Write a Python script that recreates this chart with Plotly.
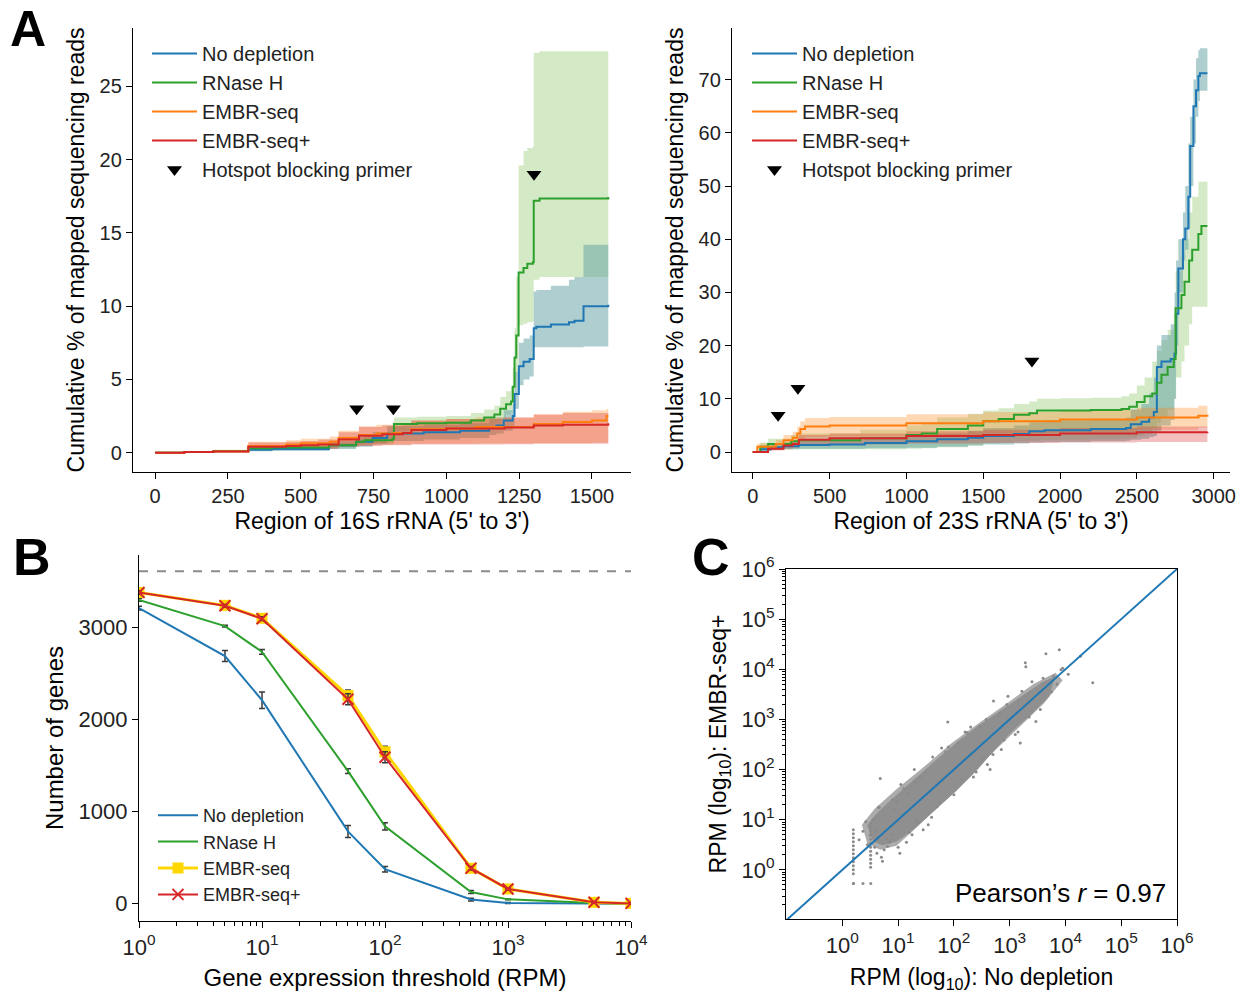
import numpy as np
import plotly.graph_objects as go

FONT = "Liberation Sans, Arial, sans-serif"
W, H = 1244, 995

# ---------------- Panel A (16S rRNA) ----------------
s16_nodep_x = [0, 100, 200, 320, 400, 597, 690, 747, 797, 922, 1047, 1147, 1172, 1197, 1228, 1234, 1249, 1265, 1286, 1300, 1309, 1359, 1421, 1440, 1471, 1556]
s16_nodep_y = [0, 0.05, 0.1, 0.2, 0.25, 0.5, 0.75, 1.0, 1.3, 1.4, 1.5, 1.75, 1.85, 2.2, 2.5, 4.0, 5.9, 6.2, 6.4, 8.5, 8.6, 8.75, 8.9, 9.0, 10.0, 10.1]
s16_nodep_lo = [0, 0.02, 0.05, 0.1, 0.12, 0.25, 0.4, 0.6, 0.8, 0.9, 1.0, 1.2, 1.3, 1.5, 1.8, 3.0, 4.6, 5.0, 5.2, 7.2, 7.2, 7.2, 7.2, 7.2, 7.25, 7.3]
s16_nodep_hi = [0, 0.1, 0.15, 0.3, 0.4, 0.8, 1.1, 1.4, 1.8, 1.9, 2.0, 2.3, 2.4, 2.9, 3.3, 5.5, 7.5, 7.8, 8.0, 11.0, 11.1, 11.4, 11.8, 12.0, 14.2, 14.5]

s16_rnh_x = [0, 100, 200, 320, 400, 597, 690, 720, 815, 820, 900, 1000, 1084, 1130, 1165, 1185, 1205, 1222, 1228, 1234, 1240, 1248, 1265, 1278, 1297, 1300, 1320, 1556]
s16_rnh_y = [0, 0.05, 0.12, 0.3, 0.35, 0.5, 0.75, 0.85, 0.95, 1.95, 2.0, 2.05, 2.2, 2.4, 2.6, 3.0, 3.3, 3.5, 4.5, 6.5, 8.0, 12.3, 12.6, 12.9, 13.0, 17.2, 17.35, 17.45]
s16_rnh_lo = [0, 0.02, 0.05, 0.15, 0.2, 0.3, 0.5, 0.55, 0.6, 1.5, 1.55, 1.6, 1.7, 1.85, 2.0, 2.3, 2.6, 2.8, 3.3, 4.5, 5.5, 8.7, 8.8, 8.9, 9.0, 11.8, 12.0, 12.1]
s16_rnh_hi = [0, 0.1, 0.2, 0.45, 0.5, 0.7, 1.0, 1.15, 1.3, 2.4, 2.45, 2.5, 2.7, 2.95, 3.2, 3.8, 4.2, 4.5, 5.8, 8.5, 12.0, 19.6, 20.6, 20.8, 20.9, 27.3, 27.4, 27.5]

s16_embr_x = [0, 100, 200, 320, 450, 500, 600, 630, 700, 760, 820, 880, 1000, 1100, 1300, 1400, 1500, 1550, 1556]
s16_embr_y = [0, 0.04, 0.08, 0.45, 0.55, 0.65, 0.75, 1.0, 1.2, 1.3, 1.35, 1.6, 1.65, 1.75, 1.95, 2.1, 2.2, 2.5, 2.5]
s16_embr_lo = [0, 0.02, 0.04, 0.2, 0.25, 0.3, 0.35, 0.45, 0.5, 0.55, 0.55, 0.6, 0.6, 0.62, 0.65, 0.65, 0.68, 0.7, 0.7]
s16_embr_hi = [0, 0.08, 0.15, 0.75, 0.85, 0.95, 1.1, 1.5, 1.8, 1.9, 1.95, 2.2, 2.3, 2.4, 2.6, 2.8, 2.9, 3.0, 3.0]

s16_plus_x = [0, 100, 200, 320, 450, 500, 560, 630, 700, 780, 850, 880, 1000, 1200, 1300, 1400, 1556]
s16_plus_y = [0, 0.04, 0.08, 0.4, 0.45, 0.5, 0.55, 0.9, 1.15, 1.25, 1.35, 1.55, 1.65, 1.72, 1.85, 1.9, 2.0]
s16_plus_lo = [0, 0.02, 0.04, 0.18, 0.2, 0.22, 0.25, 0.4, 0.45, 0.5, 0.5, 0.55, 0.55, 0.58, 0.6, 0.6, 0.62]
s16_plus_hi = [0, 0.07, 0.13, 0.7, 0.75, 0.8, 0.9, 1.4, 1.75, 1.85, 1.95, 2.2, 2.3, 2.4, 2.6, 2.7, 2.9]

s16_hotspot_x = [692, 818, 1301]
s16_hotspot_y = [3.0, 3.0, 19.0]

# ---------------- Panel A (23S rRNA) ----------------
s23_nodep_x = [0, 50, 120, 200, 300, 500, 730, 1000, 1200, 1400, 1500, 1700, 1800, 1900, 2200, 2430, 2460, 2530, 2580, 2610, 2630, 2660, 2720, 2745, 2755, 2770, 2800, 2815, 2835, 2847, 2868, 2885, 2900, 2910, 2959]
s23_nodep_y = [0, 0.5, 0.9, 1.1, 1.3, 1.4, 1.7, 2.0, 2.4, 2.7, 3.0, 3.4, 3.9, 4.1, 4.3, 4.5, 5.2, 5.7, 6.5, 7.5, 16.0, 17.0, 17.5, 18.5, 26.0, 34.5, 40.0, 42.0, 48.0, 57.5, 65.0, 68.0, 70.7, 71.2, 71.2]
s23_nodep_lo = [0, 0.2, 0.4, 0.5, 0.6, 0.6, 0.7, 0.8, 1.0, 1.2, 1.4, 1.6, 1.8, 1.9, 2.0, 2.1, 2.3, 2.5, 2.8, 3.0, 4.0, 5.0, 6.0, 10.0, 20.0, 30.0, 36.0, 38.0, 42.0, 50.0, 58.0, 63.0, 66.0, 67.9, 67.9]
s23_nodep_hi = [0, 0.8, 1.5, 1.8, 2.0, 2.2, 2.6, 3.0, 3.5, 4.0, 4.5, 5.0, 5.6, 5.9, 6.2, 6.5, 8.0, 9.0, 11.0, 14.0, 20.0, 22.0, 24.0, 30.0, 36.0, 40.0, 45.0, 50.0, 58.0, 63.0, 70.0, 74.0, 75.5, 75.9, 75.9]

s23_rnh_x = [0, 50, 100, 250, 300, 700, 1000, 1100, 1200, 1400, 1500, 1600, 1700, 1800, 1850, 2000, 2200, 2400, 2450, 2500, 2550, 2600, 2630, 2660, 2700, 2740, 2752, 2790, 2810, 2840, 2860, 2900, 2920, 2959]
s23_rnh_y = [0, 1.0, 1.5, 2.0, 2.2, 2.6, 3.2, 3.5, 4.3, 5.0, 5.8, 6.2, 7.0, 7.3, 7.8, 7.8, 7.9, 8.1, 8.5, 9.4, 10.5, 11.0, 13.0, 14.5, 16.0, 17.5, 27.0, 29.5, 32.0, 36.0, 38.0, 41.0, 42.5, 42.5]
s23_rnh_lo = [0, 0.2, 0.4, 0.5, 0.5, 0.5, 0.6, 0.7, 0.9, 1.2, 1.6, 1.8, 2.0, 2.1, 2.2, 2.3, 2.4, 2.5, 2.6, 3.0, 3.5, 4.5, 5.5, 6.5, 8.0, 10.0, 14.0, 17.0, 20.0, 24.0, 27.3, 27.3, 27.3, 27.3]
s23_rnh_hi = [0, 1.8, 2.5, 3.2, 3.5, 4.2, 5.0, 5.5, 6.5, 7.2, 7.8, 8.2, 9.0, 9.5, 10.0, 10.1, 10.2, 10.5, 11.0, 12.5, 14.0, 17.0, 19.0, 21.0, 23.0, 26.0, 34.0, 37.0, 40.0, 45.0, 48.0, 50.8, 50.8, 50.8]

s23_embr_x = [0, 30, 150, 200, 260, 290, 310, 340, 500, 1000, 1500, 2000, 2500, 2900, 2959]
s23_embr_y = [0, 1.0, 1.5, 2.2, 2.7, 3.5, 4.3, 4.8, 5.0, 5.4, 5.8, 6.1, 6.5, 6.8, 7.0]
s23_embr_lo = [0, 0.5, 0.8, 1.2, 1.5, 2.0, 2.5, 2.8, 2.9, 3.2, 3.5, 3.8, 4.2, 4.6, 4.8]
s23_embr_hi = [0, 1.6, 2.3, 3.2, 3.8, 4.8, 5.8, 6.4, 6.6, 7.1, 7.5, 7.9, 8.3, 8.7, 8.9]

s23_plus_x = [0, 100, 200, 260, 300, 500, 1000, 1500, 2000, 2500, 2959]
s23_plus_y = [0, 0.6, 1.2, 1.5, 2.3, 2.6, 3.0, 3.2, 3.5, 3.7, 3.8]
s23_plus_lo = [0, 0.3, 0.6, 0.8, 1.2, 1.4, 1.6, 1.7, 1.8, 1.9, 2.0]
s23_plus_hi = [0, 0.9, 1.7, 2.1, 3.2, 3.5, 3.9, 4.2, 4.5, 4.8, 5.0]

s23_hotspot_x = [165, 294, 1817]
s23_hotspot_y = [6.9, 12.0, 17.1]

# ---------------- Panel B ----------------
thresholds = [1, 5, 10, 50, 100, 500, 1000, 5000, 10000]
genes_nodep = [3210, 2690, 2210, 785, 375, 45, 8, 2, 0]
err_nodep = [20, 60, 90, 65, 30, 15, 5, 1, 0]
genes_rnh = [3300, 3015, 2735, 1440, 840, 127, 47, 7, 0]
err_rnh = [15, 10, 25, 25, 40, 15, 5, 1, 0]
genes_embr = [3380, 3240, 3100, 2260, 1650, 385, 160, 15, 3]
err_embr = [20, 15, 20, 60, 60, 20, 10, 3, 1]
genes_plus = [3380, 3235, 3095, 2220, 1590, 385, 160, 15, 3]
err_plus = [20, 15, 20, 60, 60, 20, 10, 3, 1]
total_genes = 3610

# ---------------- Panel C (log10 RPM) ----------------
# sparse halo around the dense core
halo_lx = [0.35, 0.58, 0.98, 1.46, 1.95, 2.45, 2.95, 3.42, 3.82, 3.95, 3.62, 3.22, 2.82, 2.42, 2.03, 1.64, 1.25, 0.97, 0.68, 0.45]
halo_ly = [0.90, 1.22, 1.62, 2.05, 2.52, 2.93, 3.32, 3.70, 3.93, 3.78, 3.33, 2.90, 2.48, 2.04, 1.58, 1.16, 0.76, 0.48, 0.40, 0.52]
# dense core
cloud_lx = [0.45, 0.62, 0.85, 1.07, 1.38, 1.70, 2.05, 2.42, 2.75, 3.05, 3.33, 3.58, 3.80, 3.70, 3.40, 3.08, 2.76, 2.40, 2.02, 1.65, 1.28, 0.98, 0.72, 0.55]
cloud_ly = [0.88, 1.12, 1.36, 1.58, 1.88, 2.20, 2.53, 2.85, 3.10, 3.33, 3.55, 3.73, 3.84, 3.46, 3.12, 2.81, 2.44, 1.98, 1.56, 1.18, 0.82, 0.58, 0.50, 0.58]
pts_lx = [1.89, 1.29, 0.68, 1.78, 2.71, 3.28, 3.29, 3.65, 3.89, 4.49, 4.27, 3.92, 3.79, 3.47, 3.19, 2.97, 1.45, 1.54, 1.03, 0.91,
          0.81, 0.72, 0.62, 0.42, 0.37, 0.51, 0.37, 0.20, 0.94, 1.19, 1.32, 1.70, 2.14, 2.52, 2.90, 2.08, 2.46, 2.84, 3.22, 2.24,
          3.55, 3.75, 3.40, 1.10, 0.55, 0.75, 0.85, 1.25, 1.60, 2.00, 2.40, 2.60, 1.50, 0.60, 0.45, 0.30, 3.95, 4.05, 3.60, 3.85,
          2.30, 2.70, 3.10, 1.85, 1.40, 0.98, 0.66, 0.58, 0.70, 0.79, 1.15, 1.36, 2.95, 3.35, 1.05, 1.62, 2.20, 2.58, 0.90, 1.20,
          1.75, 2.35, 2.85, 3.15, 0.50, 0.65, 1.00, 1.30, 1.90, 2.65]
pts_ly = [2.95, 2.00, 1.82, 2.43, 3.37, 4.13, 4.05, 4.31, 4.39, 3.73, 4.26, 3.99, 3.86, 2.96, 2.53, 3.46, 0.80, 0.90, 0.33, 0.70,
          0.47, 0.17, 0.33, 0.96, 0.77, -0.27, -0.27, -0.27, 1.20, 1.53, 1.00, 1.26, 1.80, 2.23, 2.59, 2.53, 2.86, 3.13, 3.56, 2.74,
          3.20, 3.55, 3.75, 1.62, 1.00, 0.40, 0.55, 0.70, 1.05, 1.50, 1.95, 2.10, 1.95, 0.80, 0.50, 0.60, 4.02, 3.90, 3.82, 3.70,
          2.85, 2.30, 2.70, 2.35, 1.85, 1.35, 1.25, 0.45, 0.25, 0.62, 0.55, 0.95, 3.30, 3.05, 1.70, 2.25, 2.75, 3.00, 1.40, 0.75,
          1.35, 1.85, 2.40, 2.75, 0.70, 1.25, 0.45, 1.75, 2.45, 2.00]
streak1_lx = [0.197] * 13
streak1_ly = [0.80, 0.72, 0.64, 0.56, 0.48, 0.40, 0.32, 0.24, 0.16, 0.08, 0.00, -0.08, -0.27]
streak2_lx = [0.507] * 12
streak2_ly = [0.93, 0.85, 0.77, 0.69, 0.61, 0.53, 0.45, 0.37, 0.29, 0.21, 0.13, 0.05]
pearson_r = 0.97

# ---------------- colours ----------------
C_BLUE, C_GREEN, C_ORANGE, C_RED, C_GOLD = "#1f77b4", "#2ca02c", "#ff7f0e", "#d62728", "#ffd700"
F_BLUE = "rgba(95,158,160,0.5)"
F_GREEN = "rgba(120,190,80,0.32)"
F_ORANGE = "rgba(255,127,14,0.3)"
F_RED = "rgba(214,39,40,0.3)"

fig = go.Figure()


def band(x, lo, hi, fill, xa, ya):
    fig.add_trace(go.Scatter(x=x, y=lo, mode="lines", line=dict(width=0, shape="hv"),
                             showlegend=False, hoverinfo="skip", xaxis=xa, yaxis=ya))
    fig.add_trace(go.Scatter(x=x, y=hi, mode="lines", line=dict(width=0, shape="hv"),
                             fill="tonexty", fillcolor=fill, showlegend=False,
                             hoverinfo="skip", xaxis=xa, yaxis=ya))


def panel_a(data, hot_x, hot_y, xa, ya, leg):
    for (x, y, lo, hi, name, col, fcol) in [data[1], data[0], data[2], data[3]]:
        band(x, lo, hi, fcol, xa, ya)
    for (x, y, lo, hi, name, col, fcol) in data:
        fig.add_trace(go.Scatter(x=x, y=y, mode="lines", name=name,
                                 line=dict(color=col, width=2, shape="hv"),
                                 xaxis=xa, yaxis=ya, legend=leg))
    fig.add_trace(go.Scatter(x=hot_x, y=hot_y, mode="markers", name="Hotspot blocking primer",
                             marker=dict(symbol="triangle-down", size=13, color="black"),
                             xaxis=xa, yaxis=ya, legend=leg))


panel_a([
    (s16_nodep_x, s16_nodep_y, s16_nodep_lo, s16_nodep_hi, "No depletion", C_BLUE, F_BLUE),
    (s16_rnh_x, s16_rnh_y, s16_rnh_lo, s16_rnh_hi, "RNase H", C_GREEN, F_GREEN),
    (s16_embr_x, s16_embr_y, s16_embr_lo, s16_embr_hi, "EMBR-seq", C_ORANGE, F_ORANGE),
    (s16_plus_x, s16_plus_y, s16_plus_lo, s16_plus_hi, "EMBR-seq+", C_RED, F_RED),
], s16_hotspot_x, s16_hotspot_y, "x", "y", "legend")

panel_a([
    (s23_nodep_x, s23_nodep_y, s23_nodep_lo, s23_nodep_hi, "No depletion", C_BLUE, F_BLUE),
    (s23_rnh_x, s23_rnh_y, s23_rnh_lo, s23_rnh_hi, "RNase H", C_GREEN, F_GREEN),
    (s23_embr_x, s23_embr_y, s23_embr_lo, s23_embr_hi, "EMBR-seq", C_ORANGE, F_ORANGE),
    (s23_plus_x, s23_plus_y, s23_plus_lo, s23_plus_hi, "EMBR-seq+", C_RED, F_RED),
], s23_hotspot_x, s23_hotspot_y, "x2", "y2", "legend2")

# ---- Panel B ----
fig.add_trace(go.Scatter(x=[thresholds[0], thresholds[-1]], y=[total_genes, total_genes], mode="lines",
                         line=dict(color="#8c8c8c", width=2, dash="dash"), showlegend=False,
                         hoverinfo="skip", xaxis="x3", yaxis="y3"))
ebar = dict(type="data", color="#3a3a3a", thickness=1.5, width=3)
fig.add_trace(go.Scatter(x=thresholds, y=genes_nodep, name="No depletion", mode="lines",
                         line=dict(color=C_BLUE, width=2), error_y=dict(array=err_nodep, **ebar),
                         xaxis="x3", yaxis="y3", legend="legend3"))
fig.add_trace(go.Scatter(x=thresholds, y=genes_rnh, name="RNase H", mode="lines",
                         line=dict(color=C_GREEN, width=2), error_y=dict(array=err_rnh, **ebar),
                         xaxis="x3", yaxis="y3", legend="legend3"))
fig.add_trace(go.Scatter(x=thresholds, y=genes_embr, name="EMBR-seq", mode="lines+markers",
                         line=dict(color=C_GOLD, width=3),
                         marker=dict(symbol="square", size=11, color=C_GOLD),
                         error_y=dict(array=err_embr, **ebar),
                         xaxis="x3", yaxis="y3", legend="legend3"))
fig.add_trace(go.Scatter(x=thresholds, y=genes_plus, name="EMBR-seq+", mode="lines+markers",
                         line=dict(color=C_RED, width=2),
                         marker=dict(symbol="x-thin", size=11, line=dict(color=C_RED, width=2)),
                         error_y=dict(array=err_plus, **ebar),
                         xaxis="x3", yaxis="y3", legend="legend3"))

# ---- Panel C ----
fig.add_trace(go.Scatter(x=np.power(10.0, halo_lx), y=np.power(10.0, halo_ly), mode="lines",
                         fill="toself", fillcolor="#acacac", line=dict(width=0),
                         showlegend=False, hoverinfo="skip", xaxis="x4", yaxis="y4"))
fig.add_trace(go.Scatter(x=np.power(10.0, cloud_lx), y=np.power(10.0, cloud_ly), mode="lines",
                         fill="toself", fillcolor="#8f8f8f", line=dict(color="#8f8f8f", width=1),
                         showlegend=False, hoverinfo="skip", xaxis="x4", yaxis="y4"))
all_lx = pts_lx + streak1_lx + streak2_lx
all_ly = pts_ly + streak1_ly + streak2_ly
fig.add_trace(go.Scatter(x=np.power(10.0, all_lx), y=np.power(10.0, all_ly), mode="markers",
                         marker=dict(size=3, color="#8a8a8a"), showlegend=False,
                         xaxis="x4", yaxis="y4"))
fig.add_trace(go.Scatter(x=[0.1, 1e6], y=[0.1, 1e6], mode="lines", line=dict(color=C_BLUE, width=2),
                         showlegend=False, hoverinfo="skip", xaxis="x4", yaxis="y4"))


def px_x(p):
    return p / W


def px_y(p):
    return 1 - p / H


axis_common = dict(showline=True, linecolor="black", linewidth=1.3, ticks="outside", ticklen=6,
                   tickwidth=1.3, tickcolor="black", showgrid=False, zeroline=False, automargin=False,
                   tickfont=dict(family=FONT, size=20, color="#222"))
title_font = dict(family=FONT, size=23, color="black")

sup = lambda n: "10<sup>%d</sup>" % n
leg_common = dict(xanchor="left", yanchor="top", bgcolor="rgba(0,0,0,0)", traceorder="normal",
                  tracegroupgap=0)

fig.update_layout(
    width=W, height=H, margin=dict(l=0, r=0, t=0, b=0, autoexpand=False),
    paper_bgcolor="white", plot_bgcolor="rgba(0,0,0,0)",
    font=dict(family=FONT, color="black"),
    xaxis=dict(axis_common, domain=[px_x(133), px_x(631)], anchor="y", range=[-76, 1634],
               tickvals=[0, 250, 500, 750, 1000, 1250, 1500],
               title=dict(text="Region of 16S rRNA (5' to 3')", font=title_font, standoff=6)),
    yaxis=dict(axis_common, domain=[px_y(472), px_y(28)], anchor="x", range=[-1.32, 28.99],
               tickvals=[0, 5, 10, 15, 20, 25],
               title=dict(text="Cumulative % of mapped sequencing reads", font=title_font, standoff=8)),
    xaxis2=dict(axis_common, domain=[px_x(732), px_x(1230)], anchor="y2", range=[-135, 3106],
                tickvals=[0, 500, 1000, 1500, 2000, 2500, 3000],
                title=dict(text="Region of 23S rRNA (5' to 3')", font=title_font, standoff=6)),
    yaxis2=dict(axis_common, domain=[px_y(472), px_y(28)], anchor="x2", range=[-3.76, 79.7],
                tickvals=[0, 10, 20, 30, 40, 50, 60, 70],
                title=dict(text="Cumulative % of mapped sequencing reads", font=title_font, standoff=8)),
    xaxis3=dict(axis_common, type="log", domain=[px_x(139), px_x(631)], anchor="y3", range=[0, 4],
                tickvals=[1, 10, 100, 1000, 10000], ticktext=[sup(i) for i in range(5)],
                tickfont=dict(family=FONT, size=22, color="#222"),
                minor=dict(ticks="outside", ticklen=3.5, tickcolor="black", tickwidth=1,
                           tickvals=[m * 10 ** d for d in range(4) for m in range(2, 10)]),
                title=dict(text="Gene expression threshold (RPM)", font=dict(family=FONT, size=24), standoff=10)),
    yaxis3=dict(axis_common, domain=[px_y(921), px_y(555)], anchor="x3", range=[-188, 3787],
                tickvals=[0, 1000, 2000, 3000], tickfont=dict(family=FONT, size=22, color="#222"),
                title=dict(text="Number of genes", font=dict(family=FONT, size=24), standoff=8)),
    xaxis4=dict(axis_common, type="log", domain=[px_x(786), px_x(1177)], anchor="y4", range=[-1.01, 6],
                mirror=True, tickvals=[10 ** i for i in range(7)], ticktext=[sup(i) for i in range(7)],
                tickfont=dict(family=FONT, size=22, color="#222"),
                title=dict(text="RPM (log<sub>10</sub>): No depletion", font=title_font, standoff=12)),
    yaxis4=dict(axis_common, type="log", domain=[px_y(919), px_y(569)], anchor="x4", range=[-0.98, 6],
                mirror=True, tickvals=[10 ** i for i in range(7)], ticktext=[sup(i) for i in range(7)],
                tickfont=dict(family=FONT, size=22, color="#222"),
                minor=dict(ticks="outside", ticklen=3, tickcolor="black", tickwidth=1,
                           tickvals=[m * 10 ** d for d in range(-1, 6) for m in range(2, 10)]),
                title=dict(text="RPM (log<sub>10</sub>): EMBR-seq+", font=title_font, standoff=8)),
    legend=dict(leg_common, x=px_x(147), y=px_y(34), itemwidth=45,
                font=dict(family=FONT, size=20, color="#222")),
    legend2=dict(leg_common, x=px_x(747), y=px_y(34), itemwidth=45,
                 font=dict(family=FONT, size=20, color="#222")),
    legend3=dict(leg_common, x=px_x(153), y=px_y(797), itemwidth=40,
                 font=dict(family=FONT, size=18, color="#222")),
    annotations=[
        dict(text="<b>A</b>", x=px_x(9), y=1.0, xref="paper", yref="paper", xanchor="left",
             yanchor="top", showarrow=False, borderpad=0,
             font=dict(family=FONT, size=50, color="black")),
        dict(text="<b>B</b>", x=px_x(11), y=px_y(557), xref="paper", yref="paper", xanchor="left",
             yanchor="middle", showarrow=False, font=dict(family=FONT, size=52, color="black")),
        dict(text="<b>C</b>", x=px_x(690), y=px_y(557), xref="paper", yref="paper", xanchor="left",
             yanchor="middle", showarrow=False, font=dict(family=FONT, size=52, color="black")),
        dict(text="Pearson\u2019s <i>r</i> = %.2f" % pearson_r, x=5.84, y=-0.46,
             xref="x4", yref="y4", xanchor="right", yanchor="middle", showarrow=False,
             font=dict(family=FONT, size=26, color="black")),
    ],
)

fig.write_html("out.html", config={"displayModeBar": False},
               post_script="document.body.style.margin='0px';document.body.style.overflow='hidden';")
